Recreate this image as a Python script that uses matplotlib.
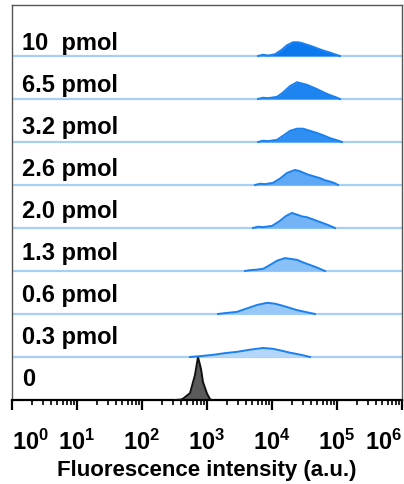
import matplotlib
matplotlib.use("Agg")
import matplotlib.pyplot as plt
from matplotlib.ticker import LogLocator, NullFormatter

plt.rcParams["font.family"] = ["Liberation Sans", "DejaVu Sans"]
plt.rcParams["mathtext.fontset"] = "custom"
plt.rcParams["mathtext.rm"] = "Liberation Sans:bold"
plt.rcParams["mathtext.bf"] = "Liberation Sans:bold"

# --- datos (intensidad, altura normalizada) ---
labels = ["0", "0.3 pmol", "0.6 pmol", "1.3 pmol", "2.0 pmol",
          "2.6 pmol", "3.2 pmol", "6.5 pmol", "10  pmol"]

x_0 = [322, 398, 427, 548, 653, 727, 809, 867, 1000, 1112, 1194]
y_0 = [0, 0.01, 0.03, 0.16, 0.58, 1.0, 0.72, 0.42, 0.15, 0.02, 0]

x_03 = [548, 780, 1237, 1893, 2895, 4590, 7280, 10360, 14760, 18920, 24260, 30000, 38460]
y_03 = [0, 0.02, 0.05, 0.09, 0.12, 0.17, 0.21, 0.19, 0.14, 0.10, 0.07, 0.04, 0]

x_06 = [1476, 1893, 2895, 4125, 5880, 8375, 11120, 14760, 18920, 24260, 32200, 45910]
y_06 = [0, 0.02, 0.05, 0.13, 0.21, 0.26, 0.24, 0.19, 0.14, 0.09, 0.05, 0]

x_13 = [3843, 4590, 5675, 7280, 9310, 11940, 15850, 19600, 24260, 30000, 38460, 49200, 65330]
y_13 = [0, 0.02, 0.03, 0.05, 0.14, 0.24, 0.30, 0.28, 0.26, 0.20, 0.14, 0.08, 0]

x_20 = [5100, 6095, 7280, 10000, 12820, 16420, 20300, 24260, 28960, 34540, 42730, 54700, 72780, 93100]
y_20 = [0, 0.03, 0.02, 0.05, 0.15, 0.28, 0.35, 0.31, 0.27, 0.25, 0.20, 0.14, 0.07, 0]

x_26 = [5474, 6540, 7800, 10360, 13280, 17010, 22580, 26980, 34540, 44260, 54700, 65330, 78000, 93100, 103600]
y_26 = [0, 0.03, 0.02, 0.05, 0.15, 0.28, 0.35, 0.32, 0.25, 0.20, 0.16, 0.11, 0.08, 0.04, 0]

x_32 = [6095, 7280, 8675, 11940, 15300, 18920, 24260, 30000, 38460, 49200, 63100, 78000, 100000, 119400]
y_32 = [0, 0.03, 0.02, 0.05, 0.16, 0.26, 0.31, 0.31, 0.26, 0.21, 0.15, 0.09, 0.04, 0]

x_65 = [6095, 7280, 8675, 11940, 14760, 18920, 24260, 28960, 34540, 41230, 49200, 63100, 78000, 96600, 111200]
y_65 = [0, 0.03, 0.02, 0.05, 0.15, 0.30, 0.39, 0.36, 0.33, 0.28, 0.23, 0.15, 0.09, 0.04, 0]

x_10 = [6095, 7280, 8675, 11120, 14260, 17010, 21040, 25120, 28960, 38460, 49200, 63100, 78000, 96600, 111200]
y_10 = [0, 0.03, 0.01, 0.04, 0.15, 0.25, 0.32, 0.32, 0.30, 0.24, 0.18, 0.12, 0.08, 0.03, 0]

xs = [x_0, x_03, x_06, x_13, x_20, x_26, x_32, x_65, x_10]
ys = [y_0, y_03, y_06, y_13, y_20, y_26, y_32, y_65, y_10]

fill_colors = ["#5a5a5a", "#b3d6fa", "#98c8f8", "#88c0f7", "#74b4f6",
               "#5ea8f5", "#2f8ef2", "#1e84f0", "#0b78ee"]
edge_colors = ["#111111"] + ["#1a80f0"] * 8

fig = plt.figure(figsize=(4.04, 4.85), dpi=100)
ax = fig.add_axes([12 / 404, 1 - 401 / 485, 390 / 404, 395 / 485])

for i in range(len(labels)):
    if i > 0:
        ax.axhline(i, color="#a6cff7", lw=1.6, zorder=1)
    yy = [i + v for v in ys[i]]
    ax.fill_between(xs[i], i, yy, color=fill_colors[i], lw=0, zorder=2)
    ax.plot(xs[i], yy, color=edge_colors[i], lw=1.4, zorder=3)
    ax.text(1.45, i + (15 - i) / 43, labels[i], fontsize=17, fontweight="bold",
            va="baseline", ha="left")

ax.set_xscale("log")
ax.set_xlim(1, 1e6)
ax.set_ylim(0, 395 / 43)
ax.set_yticks([])

ax.set_xticks([10 ** k for k in range(7)])
ax.set_xticklabels([r"$\mathbf{10^{%d}}$" % k for k in range(7)])
ax.xaxis.set_minor_locator(LogLocator(base=10, subs=range(2, 10), numticks=20))
ax.xaxis.set_minor_formatter(NullFormatter())
ax.tick_params(axis="x", which="major", direction="out", length=7, width=1.6,
               labelsize=17, pad=14)
ax.tick_params(axis="x", which="minor", direction="out", length=3.5, width=1.2)
tl = ax.get_xticklabels()
tl[0].set_ha("left")
tl[-1].set_ha("right")

for s in ["top", "left", "right"]:
    ax.spines[s].set_color("#555555")
    ax.spines[s].set_linewidth(1.0)
ax.spines["bottom"].set_color("black")
ax.spines["bottom"].set_linewidth(1.6)

ax.set_xlabel("Fluorescence intensity (a.u.)", fontsize=16, fontweight="bold",
              labelpad=3)

fig.savefig("out.png", dpi=100)
plt.close(fig)
